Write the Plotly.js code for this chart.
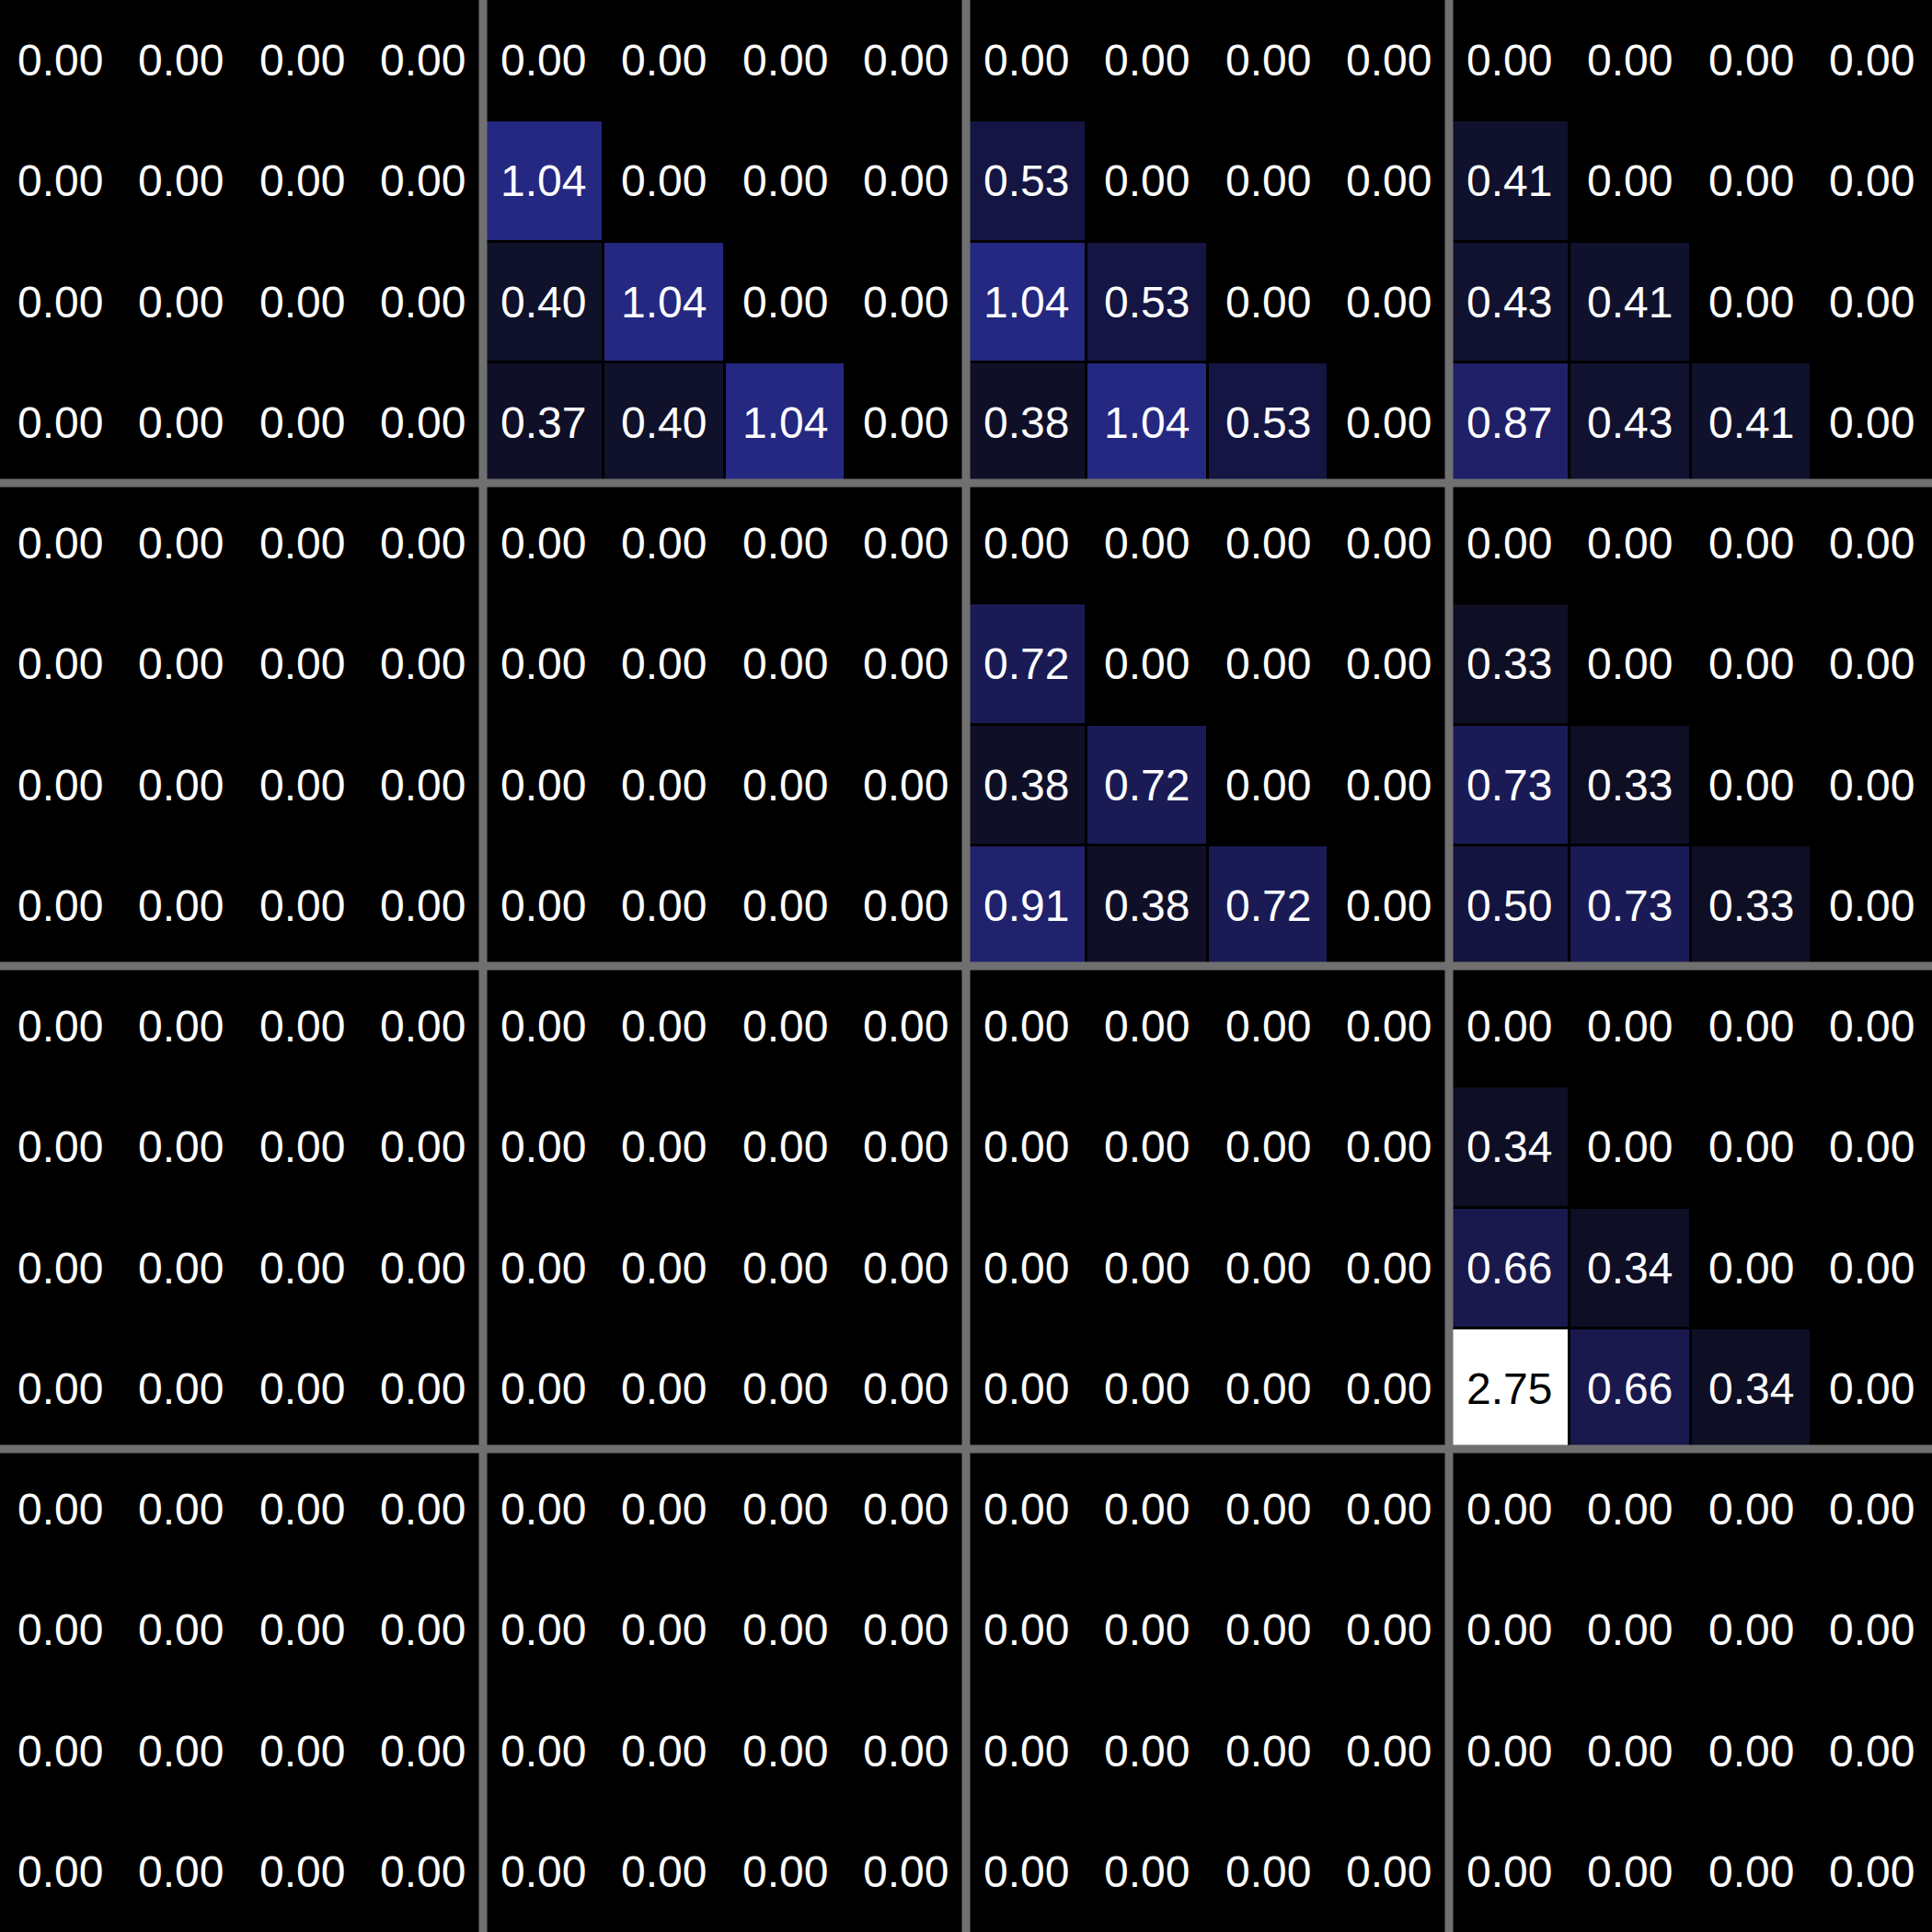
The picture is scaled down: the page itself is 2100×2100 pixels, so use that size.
<!DOCTYPE html>
<html>
<head>
<meta charset="utf-8">
<script src="https://cdn.plot.ly/plotly-3.0.1.min.js"></script>
<style>html,body{margin:0;padding:0;background:#000;}</style>
</head>
<body>
<div id="chart" style="width:2100px;height:2100px;"></div>
<script>
// Categories (16 rows x 16 columns, grouped in 4 blocks of 4)
const rowLabels = Array.from({length: 16}, (_, i) => 'r' + i);
const colLabels = Array.from({length: 16}, (_, j) => 'c' + j);
const blockSize = 4;

// Cell values, top row first
const row00 = [0,0,0,0, 0,0,0,0, 0,0,0,0, 0,0,0,0];
const row01 = [0,0,0,0, 1.04,0,0,0, 0.53,0,0,0, 0.41,0,0,0];
const row02 = [0,0,0,0, 0.40,1.04,0,0, 1.04,0.53,0,0, 0.43,0.41,0,0];
const row03 = [0,0,0,0, 0.37,0.40,1.04,0, 0.38,1.04,0.53,0, 0.87,0.43,0.41,0];
const row04 = [0,0,0,0, 0,0,0,0, 0,0,0,0, 0,0,0,0];
const row05 = [0,0,0,0, 0,0,0,0, 0.72,0,0,0, 0.33,0,0,0];
const row06 = [0,0,0,0, 0,0,0,0, 0.38,0.72,0,0, 0.73,0.33,0,0];
const row07 = [0,0,0,0, 0,0,0,0, 0.91,0.38,0.72,0, 0.50,0.73,0.33,0];
const row08 = [0,0,0,0, 0,0,0,0, 0,0,0,0, 0,0,0,0];
const row09 = [0,0,0,0, 0,0,0,0, 0,0,0,0, 0.34,0,0,0];
const row10 = [0,0,0,0, 0,0,0,0, 0,0,0,0, 0.66,0.34,0,0];
const row11 = [0,0,0,0, 0,0,0,0, 0,0,0,0, 2.75,0.66,0.34,0];
const row12 = [0,0,0,0, 0,0,0,0, 0,0,0,0, 0,0,0,0];
const row13 = [0,0,0,0, 0,0,0,0, 0,0,0,0, 0,0,0,0];
const row14 = [0,0,0,0, 0,0,0,0, 0,0,0,0, 0,0,0,0];
const row15 = [0,0,0,0, 0,0,0,0, 0,0,0,0, 0,0,0,0];
const values = [row00,row01,row02,row03,row04,row05,row06,row07,
                row08,row09,row10,row11,row12,row13,row14,row15];

const colorscale = [
  [0.000, '#000000'],
  [0.120, '#0e0e24'],
  [0.145, '#10112a'],
  [0.182, '#13143f'],
  [0.240, '#19194d'],
  [0.262, '#1a1b55'],
  [0.316, '#1f2068'],
  [0.378, '#252880'],
  [1.000, '#ffffff']
];

const zmax = Math.max(...values.flat());

const trace = {
  type: 'heatmap',
  z: values,
  x: colLabels.map((_, j) => j),
  y: rowLabels.map((_, i) => i),
  colorscale: colorscale,
  zmin: 0,
  zmax: zmax,
  showscale: false,
  xgap: 3,
  ygap: 3,
  hoverinfo: 'skip'
};

// cell labels
const annotations = [];
values.forEach((row, i) => {
  row.forEach((v, j) => {
    annotations.push({
      x: j, y: i, xref: 'x', yref: 'y',
      text: v.toFixed(2), showarrow: false,
      font: {family: 'Liberation Sans, Arial, sans-serif', size: 48,
             color: v / zmax > 0.6 ? '#000000' : '#ffffff'}
    });
  });
});

// block separator lines, derived from the block size
const shapes = [];
for (let b = blockSize; b < colLabels.length; b += blockSize) {
  shapes.push({type: 'line', layer: 'above', xref: 'x', yref: 'paper',
    x0: b - 0.5, x1: b - 0.5, y0: 0, y1: 1,
    line: {color: '#707070', width: 9}});
}
for (let b = blockSize; b < rowLabels.length; b += blockSize) {
  shapes.push({type: 'line', layer: 'above', xref: 'paper', yref: 'y',
    x0: 0, x1: 1, y0: b - 0.5, y1: b - 0.5,
    line: {color: '#707070', width: 9}});
}

const layout = {
  width: 2100,
  height: 2100,
  margin: {l: 0, r: 0, t: 0, b: 0, pad: 0},
  paper_bgcolor: '#000000',
  plot_bgcolor: '#000000',
  xaxis: {range: [-0.5, 15.5], showgrid: false, zeroline: false, showticklabels: false, ticks: '', fixedrange: true},
  yaxis: {range: [15.5, -0.5], showgrid: false, zeroline: false, showticklabels: false, ticks: '', fixedrange: true},
  shapes: shapes,
  annotations: annotations,
  showlegend: false
};

Plotly.newPlot('chart', [trace], layout, {displayModeBar: false, staticPlot: true});
</script>
</body>
</html>
